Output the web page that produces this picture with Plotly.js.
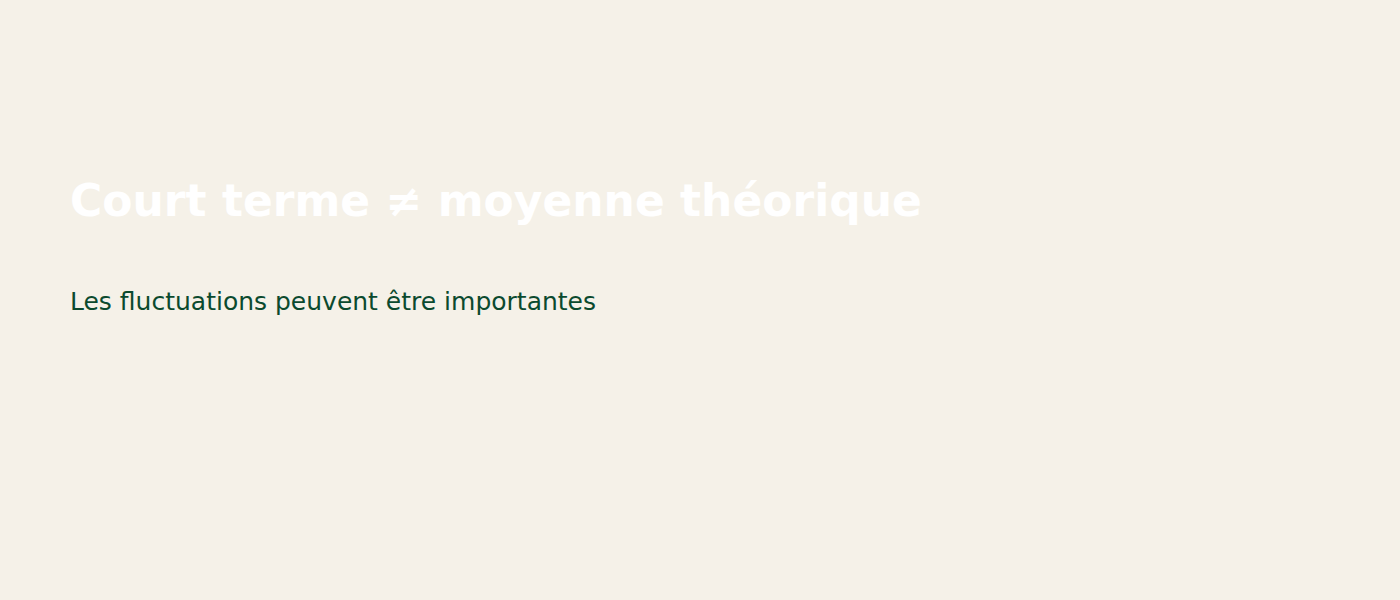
<!DOCTYPE html>
<html>
<head>
<meta charset="utf-8">
<script src="https://cdn.plot.ly/plotly-3.0.1.min.js"></script>
<style>
  html, body { margin: 0; padding: 0; background: #f5f1e8; }
  #chart { width: 1400px; height: 600px; }
</style>
</head>
<body>
<div id="chart"></div>
<script>
// Title card: no data marks, only the two lines of text
const titleText    = 'Court terme ≠ moyenne théorique';
const subtitleText = 'Les fluctuations peuvent être importantes';

const BG    = '#f5f1e8';
const GREEN = '#0b4a2e';

const layout = {
  width: 1400,
  height: 600,
  paper_bgcolor: BG,
  plot_bgcolor:  BG,
  margin: { t: 0, b: 0, l: 0, r: 0 },
  xaxis: { visible: false, range: [0, 1] },
  yaxis: { visible: false, range: [0, 1] },
  showlegend: false,
  annotations: [
    {
      text: '<b>' + titleText + '</b>',
      xref: 'paper', yref: 'paper',
      x: 68 / 1400, y: 1 - 201 / 600,
      xanchor: 'left', yanchor: 'middle',
      showarrow: false,
      font: { family: 'DejaVu Sans, sans-serif', size: 44, color: '#ffffff' },
    },
    {
      text: subtitleText,
      xref: 'paper', yref: 'paper',
      x: 68 / 1400, y: 1 - 301 / 600,
      xanchor: 'left', yanchor: 'middle',
      showarrow: false,
      font: { family: 'DejaVu Sans, sans-serif', size: 25, color: GREEN },
    },
  ],
};

Plotly.newPlot('chart', [], layout, { displayModeBar: false, staticPlot: true });
</script>
</body>
</html>
